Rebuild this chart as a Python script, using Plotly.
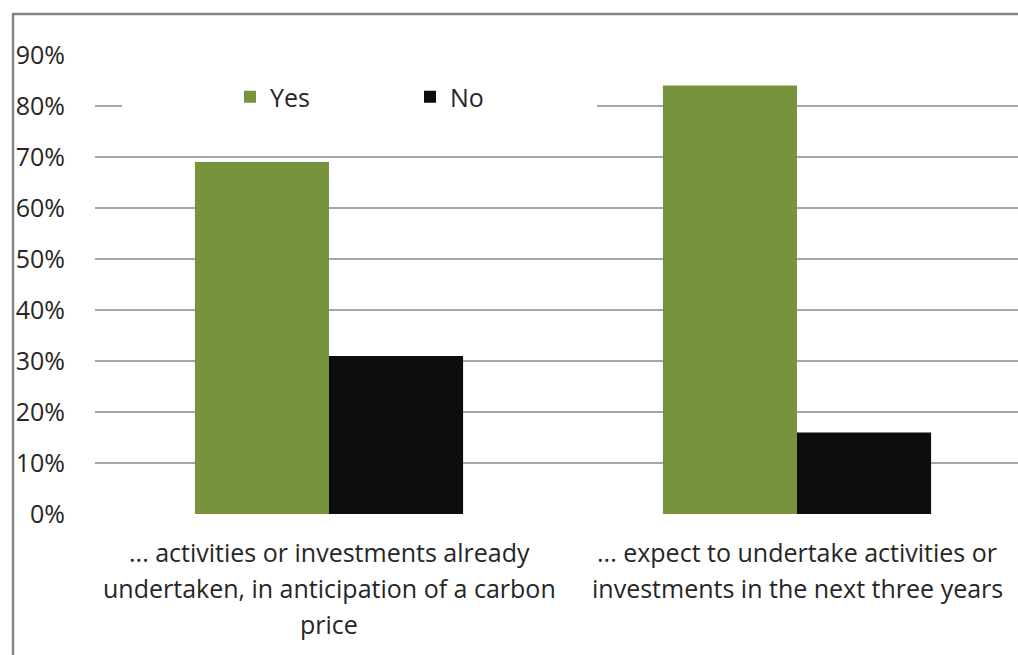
import plotly.graph_objects as go

categories = ["... activities or investments already undertaken, in anticipation of a carbon price",
              "... expect to undertake activities or investments in the next three years"]
label_lines = [["... activities or investments already", "undertaken, in anticipation of a carbon", "price"],
               ["... expect to undertake activities or", "investments in the next three years"]]
yes_vals = [0.69, 0.84]
no_vals = [0.31, 0.16]
tick_vals = [0, 0.1, 0.2, 0.3, 0.4, 0.5, 0.6, 0.7, 0.8, 0.9]
tick_text = ["0%", "10%", "20%", "30%", "40%", "50%", "60%", "70%", "80%", "90%"]

W, H = 1018, 655
L, R, T, B = 95, 0, 55, 141
pw = W - L - R

FONT = "Open Sans"
TXT = "#262626"
FS = 25

fig = go.Figure()
fig.add_trace(go.Bar(name="Yes", x=categories, y=yes_vals, marker_color="#77933C", marker_line_width=0))
fig.add_trace(go.Bar(name="No", x=categories, y=no_vals, marker_color="#0D0D0D", marker_line_width=0))

def px2paper(px):
    return (px - L) / pw

def py2paper(py):
    return (514 - py) / (514 - 55)

annotations = []
for ci, lines in enumerate(label_lines):
    for li, line in enumerate(lines):
        annotations.append(dict(x=categories[ci], y=0, xref="x", yref="y", text=line,
                                showarrow=False, yanchor="top", yshift=-19 - li * 36,
                                font=dict(family=FONT, size=FS, color=TXT)))

shapes = [
    dict(type="rect", xref="paper", yref="paper", x0=px2paper(122), x1=px2paper(597),
         y0=py2paper(112), y1=py2paper(100),
         fillcolor="white", line_width=0, layer="above"),
    dict(type="line", xref="paper", yref="paper", x0=px2paper(13), x1=px2paper(13),
         y0=py2paper(700), y1=py2paper(14), line=dict(color="#868686", width=2.5)),
    dict(type="line", xref="paper", yref="paper", x0=px2paper(12), x1=px2paper(1030),
         y0=py2paper(14), y1=py2paper(14), line=dict(color="#868686", width=2.5)),
]

fig.update_layout(
    width=W, height=H,
    margin=dict(l=L, r=R, t=T, b=B),
    paper_bgcolor="white", plot_bgcolor="white",
    barmode="group", bargap=0.427, bargroupgap=0,
    font=dict(family=FONT, size=FS, color=TXT),
    legend=dict(orientation="h", x=px2paper(230), y=py2paper(97), xanchor="left", yanchor="middle",
                bgcolor="rgba(0,0,0,0)", font=dict(family=FONT, size=FS, color=TXT),
                entrywidth=135, entrywidthmode="pixels", itemwidth=30, traceorder="normal"),
    xaxis=dict(range=[-0.5, (W - 329) / 468], showticklabels=False, showgrid=False, zeroline=False,
               showline=False, fixedrange=True),
    yaxis=dict(range=[0, 0.9], tickvals=tick_vals, ticktext=tick_text, showgrid=True,
               gridcolor="#A6A6A6", gridwidth=1.5, zeroline=False, showline=False,
               ticklabelstandoff=29, tickfont=dict(family=FONT, size=FS, color=TXT)),
    annotations=annotations,
    shapes=shapes,
    showlegend=True,
)

fig.write_html("out.html")
